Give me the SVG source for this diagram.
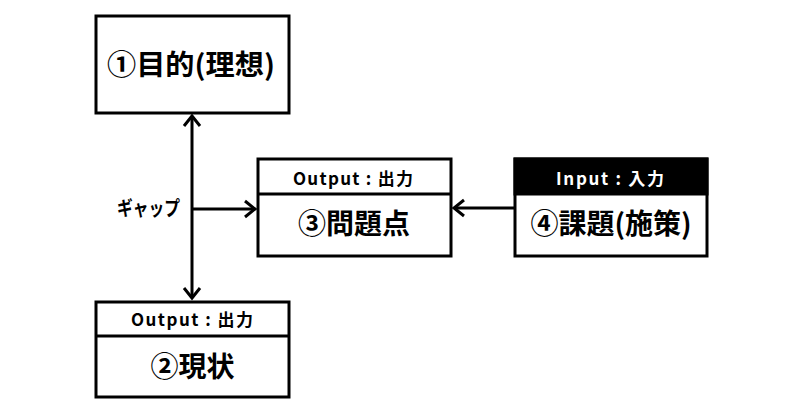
<svg xmlns="http://www.w3.org/2000/svg" width="800" height="418" viewBox="0 0 800 418">
<defs>
<style>
.box{fill:#fff;stroke:#000;stroke-width:3}
.hdr{fill:#000;stroke:#000;stroke-width:3}
.div{stroke:#000;stroke-width:3}
.t{font-family:"Noto Sans CJK JP","Noto Sans",sans-serif;font-weight:bold;text-anchor:middle;fill:#000}
.big{font-size:28px}
.sm{font-size:17px}
.w{fill:#fff}
.ln{stroke:#000;stroke-width:3;fill:none}
</style>
<marker id="ah" markerUnits="userSpaceOnUse" markerWidth="24" markerHeight="24" viewBox="-12 -12 24 24" refX="0" refY="0" orient="auto-start-reverse" overflow="visible">
<path d="M-10,-8 L0,0 L-10,8" fill="none" stroke="#000" stroke-width="3"/>
</marker>
</defs>
<rect width="800" height="418" fill="#fff"/>
<g id="connectors">
<line class="ln" x1="192" y1="116" x2="192" y2="298" marker-start="url(#ah)" marker-end="url(#ah)"/>
<line class="ln" x1="192" y1="209" x2="255" y2="209" marker-end="url(#ah)"/>
<line class="ln" x1="514" y1="208" x2="454" y2="208" marker-end="url(#ah)"/>
<text class="t" style="font-size:20px" x="148.5" y="216" textLength="63" lengthAdjust="spacingAndGlyphs">ギャップ</text>
</g>
<g id="node1">
<rect class="box" x="96" y="16" width="193" height="97"/>
<text class="t big" x="191" y="75" textLength="168" lengthAdjust="spacingAndGlyphs">①目的(理想)</text>
</g>
<g id="node2">
<rect class="box" x="96" y="302" width="193" height="95"/>
<line class="div" x1="96" y1="336" x2="289" y2="336"/>
<text class="t sm" x="192" y="326" textLength="122" lengthAdjust="spacing">Output : 出力</text>
<text class="t big" x="192.5" y="377">②現状</text>
</g>
<g id="node3">
<rect class="box" x="258" y="159" width="193" height="97"/>
<line class="div" x1="258" y1="194" x2="451" y2="194"/>
<text class="t sm" x="353" y="185" textLength="120" lengthAdjust="spacing">Output : 出力</text>
<text class="t big" x="354" y="234">③問題点</text>
</g>
<g id="node4">
<rect class="box" x="515" y="159" width="192" height="97"/>
<rect class="hdr" x="515" y="159" width="192" height="35"/>
<text class="t sm w" x="610" y="185" textLength="108" lengthAdjust="spacing">Input : 入力</text>
<text class="t big" x="611" y="234">④課題(施策)</text>
</g>
</svg>
